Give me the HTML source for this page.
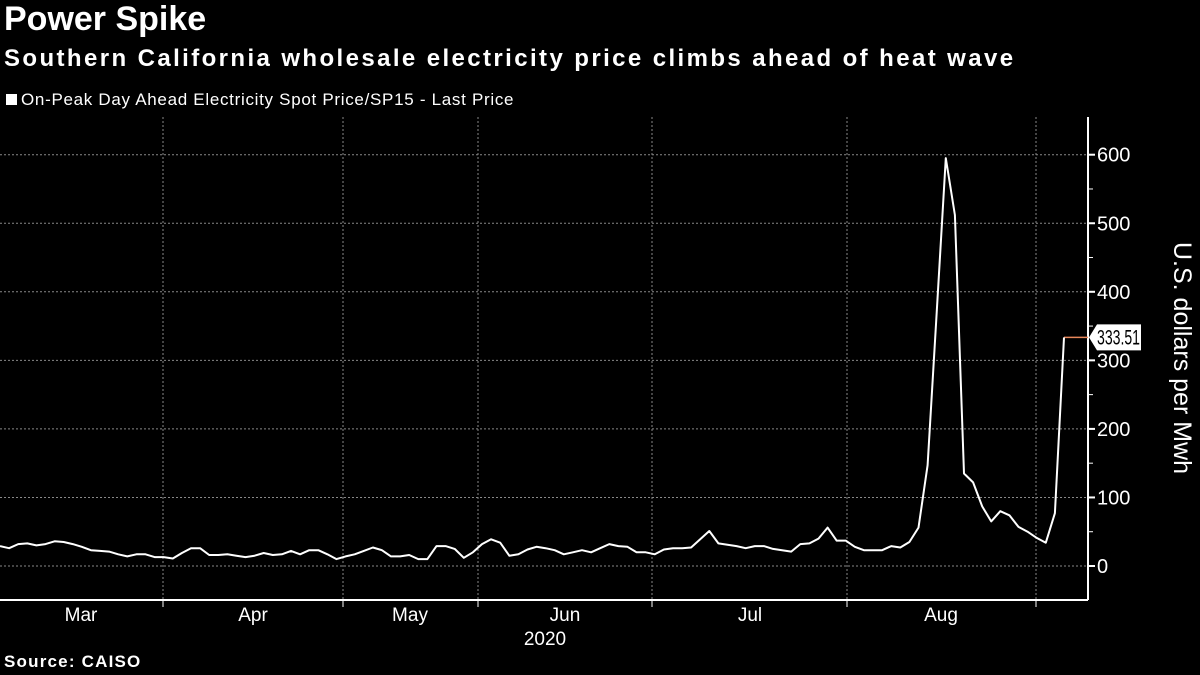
<!DOCTYPE html>
<html><head><meta charset="utf-8"><style>
html,body{margin:0;padding:0;background:#000;width:1200px;height:675px;overflow:hidden;font-family:"Liberation Sans",sans-serif;color:#fff}
#title{position:absolute;left:4px;top:0px;font-size:34px;font-weight:bold}
#sub{position:absolute;left:4px;top:45px;font-size:24px;font-weight:bold;letter-spacing:2.4px}
#legend{position:absolute;left:6px;top:90px;font-size:17px;letter-spacing:0.7px}
#legend span.sw{display:inline-block;width:11px;height:11px;background:#fff;margin-right:4px}
#src{position:absolute;left:4px;top:652px;font-size:17px;font-weight:bold;letter-spacing:1.2px}
svg{position:absolute;left:0;top:0}
</style></head><body>
<div id="title">Power Spike</div>
<div id="sub">Southern California wholesale electricity price climbs ahead of heat wave</div>
<div id="legend"><span class="sw"></span>On-Peak Day Ahead Electricity Spot Price/SP15 - Last Price</div>
<div id="src">Source: CAISO</div>
<svg id="chart" width="1200" height="675"></svg>
<script>
const prices = [29,26,32,33,30,32,36,35,32,28,23,22,21,17,14,17,17,13,13,11,19,26,26,16,16,17,15,13,15,19,16,17,22,17,23,23,17,10,14,17,22,27,23,14,14,16,10,10,29,29,25,12,20,32,39,34,15,17,24,28,26,
23,17,20,23,20,26,32,29,28,20,20,17,24,26,26,27,39,51,33,31,29,26,29,29,25,23,21,32,33,40,56,37,37,28,23,23,23,29,27,35,56,
147,370,595,512,135,122,87,65,80,74,57,50,41,34,77,333.51];
const months = ["Mar","Apr","May","Jun","Jul","Aug"];
const monthCenters = [81,253,410,565,750,941];
const monthBounds = [163,343,478,652,847,1036];
const yTicks = [0,100,200,300,400,500,600];
const lastPrice = 333.51;

const NS="http://www.w3.org/2000/svg";
const svg=document.getElementById('chart');
const X0=0, X1=1064, AX=1088, PT=117, PB=600;
const xs=i=>X0+(X1-X0)*i/(prices.length-1);
const ys=v=>566-v*0.6855;
function mk(t,a){const e=document.createElementNS(NS,t);for(const k in a)e.setAttribute(k,a[k]);svg.appendChild(e);return e;}

yTicks.forEach(v=>{
  const g=mk('line',{x1:0,x2:AX,y1:ys(v),y2:ys(v),stroke:'#888','stroke-width':1,'stroke-dasharray':'2,2'});
  
  
  const t=mk('line',{x1:AX,x2:AX+7,y1:ys(v),y2:ys(v),stroke:'#fff','stroke-width':2});
  
  
  const l=mk('text',{x:AX+9,y:ys(v)+7,fill:'#fff','font-size':20,'font-family':'Liberation Sans, sans-serif'});
  l.textContent=v;
  
  
});
for(let v=50;v<650;v+=100){
  const t=mk('line',{x1:AX,x2:AX+5,y1:ys(v),y2:ys(v),stroke:'#fff','stroke-width':1});
  
  
}
monthBounds.forEach(x=>{
  const g=mk('line',{x1:x,x2:x,y1:PT,y2:PB,stroke:'#888','stroke-width':1,'stroke-dasharray':'2,2'});
  
  
  const t=mk('line',{x1:x,x2:x,y1:PB,y2:PB+7,stroke:'#fff','stroke-width':1});
  
  
});
months.forEach((m,i)=>{
  const l=mk('text',{x:monthCenters[i],y:621,fill:'#fff','font-size':19,'text-anchor':'middle','font-family':'Liberation Sans, sans-serif'});
  l.textContent=m;
  
  
});
const yr=mk('text',{x:545,y:645,fill:'#fff','font-size':19,'text-anchor':'middle','font-family':'Liberation Sans, sans-serif'});
yr.textContent='2020';



const ax=mk('line',{x1:AX,x2:AX,y1:PT,y2:PB,stroke:'#fff','stroke-width':2});


const bx=mk('line',{x1:0,x2:AX,y1:PB,y2:PB,stroke:'#fff','stroke-width':2});



const ll=mk('line',{x1:xs(prices.length-1),x2:AX,y1:ys(lastPrice),y2:ys(lastPrice),stroke:'#e8875a','stroke-width':1.5});



const d=prices.map((v,i)=>(i?'L':'M')+xs(i).toFixed(1)+','+ys(v).toFixed(1)).join(' ');
const p=mk('path',{d:d,fill:'none',stroke:'#fff','stroke-width':2,'stroke-linejoin':'round'});



const yt=mk('text',{x:1174,y:358,fill:'#fff','font-size':25,'text-anchor':'middle','font-family':'Liberation Sans, sans-serif',transform:'rotate(90 1174 358)'});
yt.textContent='U.S. dollars per Mwh';



const yl=ys(lastPrice);
const tag=mk('path',{d:`M${AX+1},${yl} L${AX+9},${yl-13} L${AX+53},${yl-13} L${AX+53},${yl+13} L${AX+9},${yl+13} Z`,fill:'#fff'});


const tt=mk('text',{x:AX+9,y:yl+7,fill:'#000','font-size':21,textLength:43,lengthAdjust:'spacingAndGlyphs','font-family':'Liberation Sans, sans-serif'});
tt.textContent=lastPrice.toFixed(2);


</script>
</body></html>
